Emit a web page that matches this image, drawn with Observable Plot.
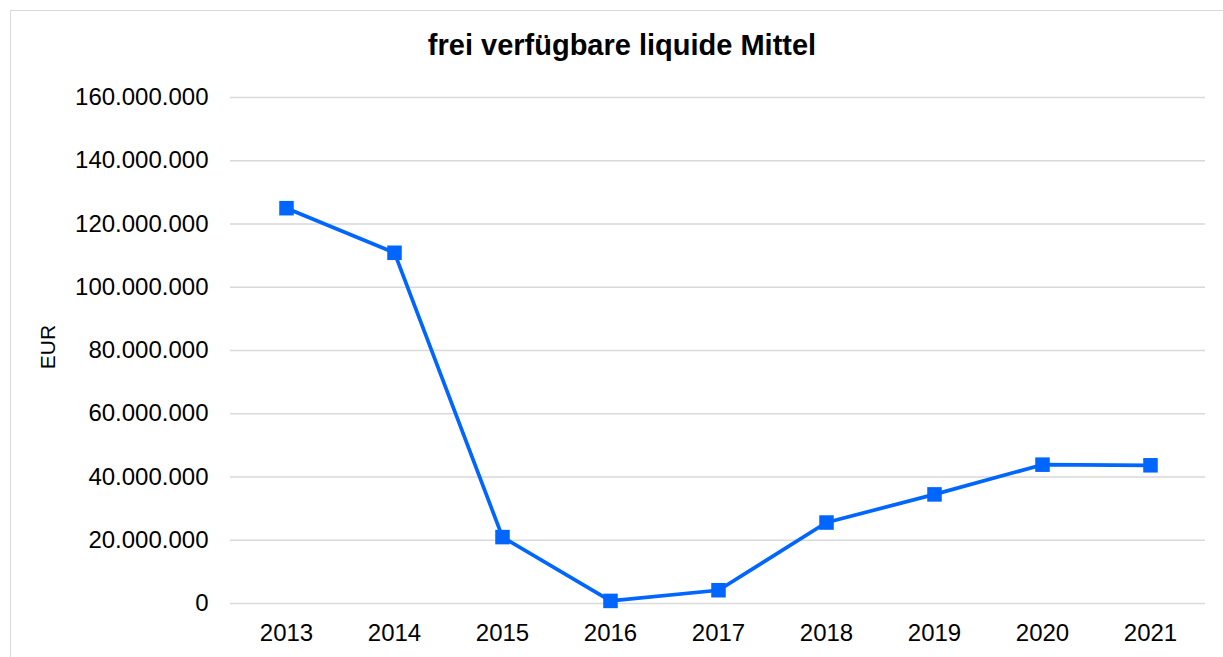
<!DOCTYPE html>
<html>
<head>
<meta charset="utf-8">
<script src="https://cdn.jsdelivr.net/npm/d3@7"></script>
<script src="https://cdn.jsdelivr.net/npm/@observablehq/plot@0.6"></script>
<style>
  html, body { margin: 0; padding: 0; background: #fff; overflow: hidden; }
  #frame { position: absolute; left: 10px; top: 10px; width: 1230px; height: 700px; border: 1px solid #d9d9d9; box-sizing: border-box; }
  #title { position: absolute; left: 0; top: 28px; width: 1244px; text-align: center; font-family: "Liberation Sans", Arial, sans-serif; font-weight: bold; font-size: 29px; color: #000; line-height: 34px; }
  #chart { position: absolute; left: 0; top: 70px; }
  #ylabel { position: absolute; left: 48px; top: 347px; transform: translate(-50%, -50%) rotate(-90deg); font-family: "Liberation Sans", Arial, sans-serif; font-size: 21px; color: #000; white-space: nowrap; }
</style>
</head>
<body>
<div id="frame"></div>
<div id="title">frei verfügbare liquide Mittel</div>
<div id="ylabel">EUR</div>
<div id="chart"></div>
<script>
const years = ["2013", "2014", "2015", "2016", "2017", "2018", "2019", "2020", "2021"];
const values = [125000000, 110900000, 21000000, 820000, 4200000, 25600000, 34500000, 43900000, 43700000];
const yTicks = [0, 20000000, 40000000, 60000000, 80000000, 100000000, 120000000, 140000000, 160000000];

const data = years.map((y, i) => ({ year: y, value: values[i] }));
const de = d3.formatLocale({ decimal: ",", thousands: ".", grouping: [3], currency: ["", " €"] });
const fmt = de.format(",");
const blue = "#0066ff";

const chart = Plot.plot({
  width: 1223,
  height: 587,
  marginLeft: 230,
  marginRight: 18,
  marginTop: 27,
  marginBottom: 54,
  style: { fontFamily: "'Liberation Sans', Arial, sans-serif", fontSize: "24px", color: "#000", background: "transparent", overflow: "visible" },
  x: { type: "point", domain: years, padding: 0.5, label: null, tickSize: 0, tickPadding: 20 },
  y: { domain: [0, 160000000], ticks: yTicks, tickFormat: fmt, label: null, tickSize: 0, tickPadding: 22 },
  marks: [
    Plot.gridY(yTicks, { stroke: "#d9d9d9", strokeOpacity: 1, strokeWidth: 1.3 }),
    Plot.axisX({ tickSize: 0, tickPadding: 20, fill: "#000" }),
    Plot.axisY(yTicks, { tickSize: 0, tickPadding: 22, tickFormat: fmt, fill: "#000" }),
    Plot.line(data, { x: "year", y: "value", stroke: blue, strokeWidth: 3.7 }),
    Plot.dot(data, { x: "year", y: "value", symbol: "square", r: 8.2, fill: blue, stroke: "none" })
  ]
});
document.getElementById("chart").appendChild(chart);
</script>
</body>
</html>
